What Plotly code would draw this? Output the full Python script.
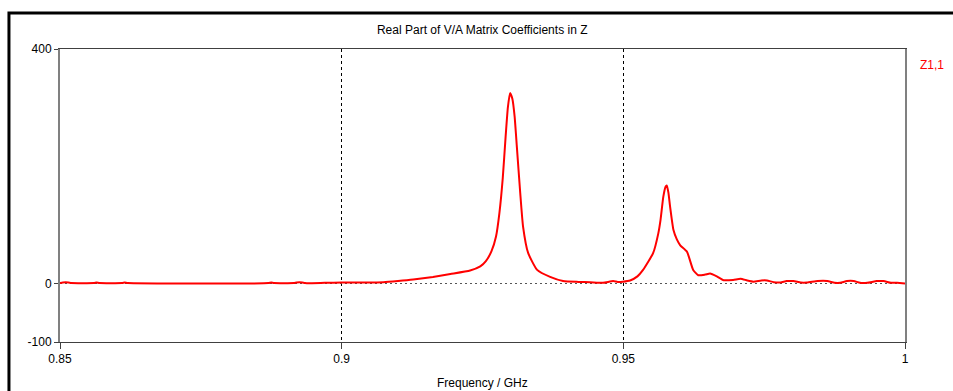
import plotly.graph_objects as go

# Z1,1 real part versus frequency
freq_ghz = [
    0.8500, 0.8505, 0.8515, 0.8520, 0.8560, 0.8565, 0.8570, 0.8610, 0.8615, 0.8620,
    0.8870, 0.8875, 0.8880, 0.8915, 0.8920, 0.8930, 0.8935, 0.8970, 0.9000, 0.9040,
    0.9074, 0.9100, 0.9127, 0.9162, 0.9193, 0.9228, 0.9246, 0.9256, 0.9266, 0.9274,
    0.9280, 0.9286, 0.9291, 0.9295, 0.9299, 0.9303, 0.9307, 0.9311, 0.9317, 0.9322,
    0.9331, 0.9347, 0.9370, 0.9393, 0.9420, 0.9441, 0.9464, 0.9482, 0.9490, 0.9499,
    0.9512, 0.9525, 0.9535, 0.9553, 0.9562, 0.9566, 0.9571, 0.9575, 0.9577, 0.9580,
    0.9583, 0.9589, 0.9595, 0.9601, 0.9613, 0.9624, 0.9633, 0.9645, 0.9654, 0.9666,
    0.9678, 0.9695, 0.9708, 0.9720, 0.9731, 0.9745, 0.9755, 0.9767, 0.9779, 0.9790,
    0.9802, 0.9815, 0.9826, 0.9845, 0.9862, 0.9875, 0.9885, 0.9897, 0.9909, 0.9920,
    0.9933, 0.9950, 0.9962, 0.9975, 0.9986, 1.0000,
]
z11_real = [
    0.5, 1.5, 1.5, 0.5, 0.5, 1.5, 0.5, 0.5, 1.5, 0.5,
    0.5, 1.5, 0.5, 0.5, 1.5, 1.5, 0.5, 1.0, 1.5, 1.5,
    2.0, 4.0, 6.5, 11, 16, 22, 29, 38, 55, 80,
    120, 180, 250, 300, 325, 315, 285, 233, 154, 97,
    52, 23, 11, 4, 2.5, 2, 1, 4, 2.5, 3,
    5, 12, 23, 52, 85, 108, 148, 165, 167, 155,
    131, 91, 75, 65, 54, 23, 14, 15, 17, 12,
    5.5, 6, 8, 5, 3, 5, 5, 2, 1.5, 4,
    4, 1.5, 1.5, 4, 4, 1, 1, 4, 4, 1,
    1, 4, 4, 1, 1, 0,
]

x_ticks = [0.85, 0.9, 0.95, 1.0]
x_tick_text = ["0.85", "0.9", "0.95", "1"]
y_ticks = [-100, 0, 400]
y_tick_text = ["-100", "0", "400"]

FONT = "Liberation Sans"

fig = go.Figure()
fig.add_trace(go.Scatter(
    x=freq_ghz, y=z11_real, mode="lines", name="Z1,1",
    line=dict(color="#ff0000", width=2, shape="spline", smoothing=0.5),
    showlegend=False,
))

fig.update_layout(
    width=953, height=391,
    margin=dict(l=60, r=48, t=49, b=49),
    paper_bgcolor="white", plot_bgcolor="white",
    font=dict(family=FONT, size=12, color="#000000"),
    title=dict(
        text="Real Part of V/A Matrix Coefficients in Z",
        x=0.506, xanchor="center", y=1 - 30 / 391, yanchor="middle",
        font=dict(family=FONT, size=12, color="#000000"),
    ),
    xaxis=dict(
        range=[0.85, 1.0], tickvals=x_ticks, ticktext=x_tick_text,
        showline=True, linecolor="#404040", linewidth=1, mirror=True,
        showgrid=True, gridcolor="#000000", gridwidth=1, griddash="3px,3px",
        ticks="outside", ticklen=6, tickcolor="#404040",
        zeroline=False,
    ),
    yaxis=dict(
        range=[-100, 400], tickvals=y_ticks, ticktext=y_tick_text,
        showline=True, linecolor="#808080", linewidth=2, mirror=True,
        showgrid=True, gridcolor="#555555", gridwidth=1, griddash="2px,3px",
        ticks="outside", ticklen=4, tickcolor="#404040",
        zeroline=False,
    ),
    annotations=[
        dict(text="Frequency / GHz", xref="paper", yref="paper",
             x=0.5, y=-0.141, xanchor="center", yanchor="middle",
             showarrow=False, font=dict(family=FONT, size=12)),
        dict(text="Z1,1", xref="paper", yref="paper",
             x=1.015, y=0.945, xanchor="left", yanchor="middle",
             showarrow=False, font=dict(family=FONT, size=12, color="#ff0000")),
    ],
    shapes=[
        # outer frame around the whole chart
        dict(type="rect", xref="paper", yref="paper",
             x0=-0.0604, x1=1.08, y0=-0.25, y1=1.123,
             line=dict(color="#000000", width=3), layer="above"),
    ],
)

fig.write_html("out.html")
